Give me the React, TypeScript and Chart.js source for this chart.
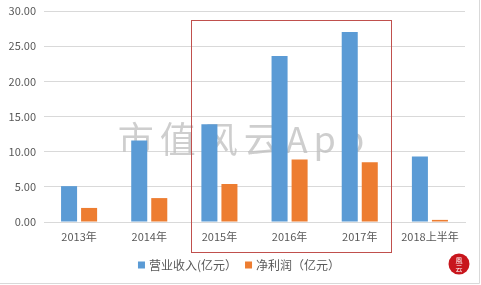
import React, { useEffect, useRef } from "react";
import { Chart, registerables } from "chart.js";

Chart.register(...registerables);

const categories = ["2013年", "2014年", "2015年", "2016年", "2017年", "2018上半年"];
const revenue = [5.1, 11.6, 13.9, 23.6, 27.0, 9.3];
const profit = [2.0, 3.4, 5.4, 8.9, 8.5, 0.3];
const seriesNames = ["营业收入(亿元）", "净利润（亿元）"];
const seriesColors = ["#5b9bd5", "#ed7d31"];
const watermarkText = "市值风云App";
const logoText = ["風", "云"];

const FONT = "'Noto Sans CJK SC', 'Noto Sans', sans-serif";

export default function App() {
  const ref = useRef<HTMLCanvasElement | null>(null);

  useEffect(() => {
    const canvas = ref.current;
    if (!canvas) return;

    const decor = {
      id: "decor",
      beforeDatasetsDraw(chart: any) {
        const ctx = chart.ctx;
        ctx.save();
        ctx.font = `36px ${FONT}`;
        (ctx as any).letterSpacing = "6px";
        ctx.fillStyle = "rgba(190,190,190,0.75)";
        ctx.textAlign = "center";
        ctx.textBaseline = "middle";
        ctx.fillText(watermarkText, 244, 139);
        ctx.restore();
      },
      afterDraw(chart: any) {
        const ctx = chart.ctx;
        const xs = chart.scales.x;
        const ys = chart.scales.y;
        ctx.save();
        // highlight box around 2015-2017
        ctx.strokeStyle = "#c0504d";
        ctx.lineWidth = 1;
        const left = Math.round(xs.getPixelForValue(2) - 28) + 0.5;
        const right = Math.round(xs.getPixelForValue(4) + 31) + 0.5;
        const top = Math.round(ys.getPixelForValue(28.7)) + 0.5;
        const bottom = 252.5;
        ctx.strokeRect(left, top, right - left, bottom - top);

        // legend
        ctx.font = `12px ${FONT}`;
        ctx.textBaseline = "middle";
        ctx.textAlign = "left";
        const box = 7;
        const gapText = 4;
        const gapItem = 8;
        const widths = seriesNames.map((n) => ctx.measureText(n).width);
        const total = widths.reduce((a, w) => a + box + gapText + w, 0) + gapItem;
        let x = 239 - total / 2;
        const ly = 265;
        seriesNames.forEach((n, i) => {
          ctx.fillStyle = seriesColors[i];
          ctx.fillRect(x, ly - box / 2, box, box);
          x += box + gapText;
          ctx.fillStyle = "#595959";
          ctx.fillText(n, x, ly);
          x += widths[i] + gapItem;
        });

        // outer border (bottom/right)
        ctx.strokeStyle = "#d9d9d9";
        ctx.beginPath();
        ctx.moveTo(0, 283.5);
        ctx.lineTo(479.5, 283.5);
        ctx.lineTo(479.5, 0);
        ctx.stroke();

        // logo
        ctx.fillStyle = "#c8161d";
        ctx.beginPath();
        ctx.arc(459, 264, 10.5, 0, Math.PI * 2);
        ctx.fill();
        ctx.fillStyle = "#ffffff";
        ctx.font = `7px ${FONT}`;
        ctx.textAlign = "center";
        ctx.fillText(logoText[0], 459, 260);
        ctx.fillText(logoText[1], 459, 268);
        ctx.restore();
      },
    };

    const chart = new Chart(canvas, {
      type: "bar",
      data: {
        labels: categories,
        datasets: [
          {
            label: seriesNames[0],
            data: revenue,
            backgroundColor: seriesColors[0],
            categoryPercentage: 0.571,
            barPercentage: 0.8,
          },
          {
            label: seriesNames[1],
            data: profit,
            backgroundColor: seriesColors[1],
            categoryPercentage: 0.571,
            barPercentage: 0.8,
          },
        ],
      },
      options: {
        responsive: false,
        animation: false,
        layout: { padding: { top: 11, right: 16, bottom: 35, left: 0 } },
        plugins: {
          legend: { display: false },
          tooltip: { enabled: false },
        },
        scales: {
          x: {
            grid: { display: false, drawTicks: false },
            border: { display: true, color: "#d9d9d9" },
            ticks: {
              padding: 8,
              color: "#595959",
              font: { size: 11, family: FONT },
              maxRotation: 0,
              autoSkip: false,
            },
            afterFit(s: any) {
              s.height = 28;
              s.paddingLeft = 0;
              s.paddingRight = 0;
            },
          },
          y: {
            min: 0,
            max: 30,
            grid: { color: "#d9d9d9", drawTicks: false },
            border: { display: false },
            ticks: {
              stepSize: 5,
              padding: 8,
              color: "#595959",
              font: { size: 11, family: FONT },
              callback: (v: any) => Number(v).toFixed(2),
            },
            afterFit(s: any) {
              s.width = 44;
              s.paddingTop = 0;
              s.paddingBottom = 0;
            },
          },
        },
      },
      plugins: [decor],
    });
    return () => chart.destroy();
  }, []);

  return (
    <div style={{ position: "fixed", left: 0, top: 0, width: 481, height: 285, background: "#fff" }}>
      <canvas ref={ref} width={481} height={285} style={{ display: "block" }} />
    </div>
  );
}
